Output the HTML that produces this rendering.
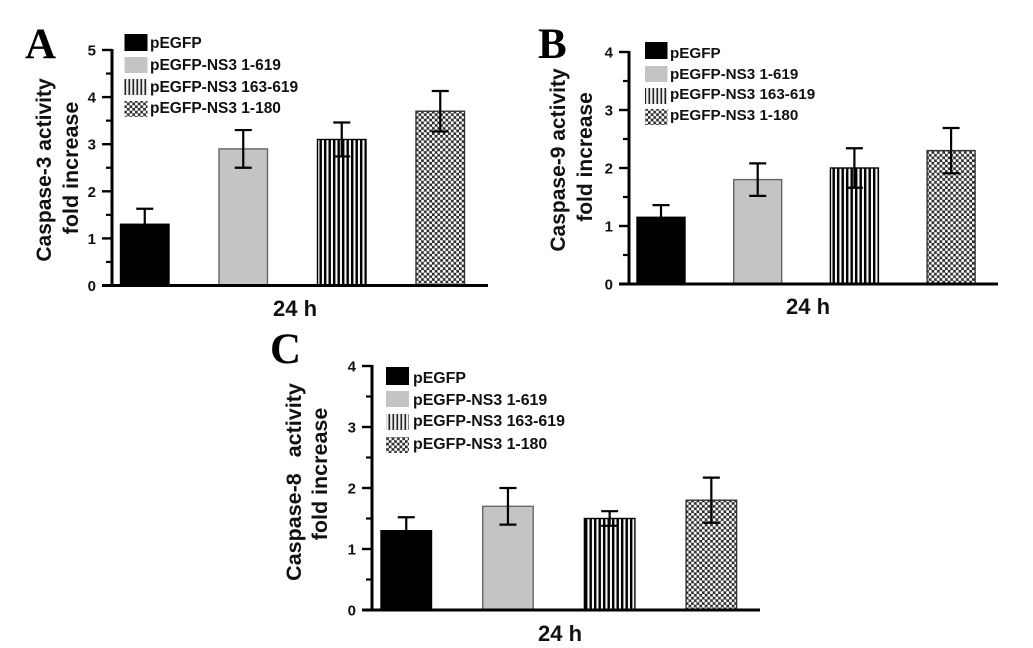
<!DOCTYPE html>
<html lang="en">
<head>
<meta charset="utf-8">
<title>Caspase activity fold increase</title>
<style>
html,body{margin:0;padding:0;background:#fff;width:1033px;height:648px;overflow:hidden}
svg{display:block;filter:blur(0.35px)}
text{font-family:"Liberation Sans",Arial,sans-serif;font-weight:bold;fill:#111}
.panel-letter{font-family:"Liberation Serif",serif;font-size:43px;fill:#000}
.tick{font-size:15px;text-anchor:end}
.ttl{font-size:21px;text-anchor:middle}
.ttl2{font-size:21.5px;text-anchor:middle}
.xl{font-size:22px;text-anchor:middle}
</style>
</head>
<body>
<svg id="figure" width="1033" height="648" viewBox="0 0 1033 648" xmlns="http://www.w3.org/2000/svg">
<defs>
<pattern id="stripes" width="4.5" height="4.5" patternUnits="userSpaceOnUse">
<rect width="4.5" height="4.5" fill="#f4f4f4"/>
<rect x="0" width="2.4" height="4.5" fill="#000"/>
</pattern>
<pattern id="legend-stripes" width="4" height="4" patternUnits="userSpaceOnUse">
<rect width="4" height="4" fill="#eeeeee"/>
<rect x="0.5" width="1.6" height="4" fill="#222"/>
</pattern>
<pattern id="checks" width="5.4" height="5.4" patternUnits="userSpaceOnUse">
<rect width="5.4" height="5.4" fill="#2a2a2a"/>
<circle cx="1.35" cy="1.35" r="1.55" fill="#fff"/>
<circle cx="4.05" cy="4.05" r="1.55" fill="#fff"/>
</pattern>
</defs>
<rect width="1033" height="648" fill="#fff"/>

<g id="panel-a">
<text class="panel-letter" x="25" y="58">A</text>
<text class="ttl" transform="translate(51,170) rotate(-90)">Caspase-3 activity</text>
<text class="ttl2" transform="translate(78,168) rotate(-90)">fold increase</text>
<text class="xl" x="295" y="316">24 h</text>
<g style="font-size:15.5px">
<rect x="124.500" y="34" width="23" height="17" fill="#000"/>
<rect x="124.500" y="57" width="23" height="16" fill="#c4c4c4"/>
<rect x="124.500" y="79" width="23" height="16" fill="url(#legend-stripes)"/>
<rect x="124.500" y="101" width="23" height="16" fill="url(#checks)"/>
<text x="150" y="48">pEGFP</text>
<text x="150" y="70">pEGFP-NS3 1-619</text>
<text x="150" y="92">pEGFP-NS3 163-619</text>
<text x="150" y="113">pEGFP-NS3 1-180</text>
</g>
</g>

<g id="panel-b">
<text class="panel-letter" x="538" y="58">B</text>
<text class="ttl" transform="translate(565,160) rotate(-90)">Caspase-9 activity</text>
<text class="ttl" transform="translate(592,157) rotate(-90)">fold increase</text>
<text class="xl" x="808" y="314">24 h</text>
<g style="font-size:15.2px">
<rect x="645" y="42" width="22.500" height="17" fill="#000"/>
<rect x="645" y="66" width="22.500" height="16" fill="#c4c4c4"/>
<rect x="645" y="88" width="22.500" height="16" fill="url(#legend-stripes)"/>
<rect x="645" y="109" width="22.500" height="16" fill="url(#checks)"/>
<text x="670" y="58">pEGFP</text>
<text x="670" y="79">pEGFP-NS3 1-619</text>
<text x="670" y="99">pEGFP-NS3 163-619</text>
<text x="670" y="120">pEGFP-NS3 1-180</text>
</g>
</g>

<g id="panel-c">
<text class="panel-letter" x="270" y="363">C</text>
<text class="ttl2" style="word-spacing:10px" transform="translate(301,482) rotate(-90)">Caspase-8 activity</text>
<text class="ttl2" transform="translate(327,474) rotate(-90)">fold increase</text>
<text class="xl" x="560" y="641">24 h</text>
<g style="font-size:15.9px">
<rect x="386" y="367" width="23" height="18" fill="#000"/>
<rect x="386" y="391" width="23" height="16" fill="#c4c4c4"/>
<rect x="386" y="414" width="23" height="16" fill="url(#legend-stripes)"/>
<rect x="386" y="437" width="23" height="16" fill="url(#checks)"/>
<text x="413" y="383">pEGFP</text>
<text x="413" y="405">pEGFP-NS3 1-619</text>
<text x="413" y="426">pEGFP-NS3 163-619</text>
<text x="413" y="449">pEGFP-NS3 1-180</text>
</g>
</g>
</svg>
<script>
// Chart data
const categories = ["pEGFP", "pEGFP-NS3 1-619", "pEGFP-NS3 163-619", "pEGFP-NS3 1-180"];
const caspase3Means = [1.3, 2.9, 3.1, 3.7];
const caspase3Errors = [0.33, 0.4, 0.36, 0.43];
const caspase3Ticks = [0, 1, 2, 3, 4, 5];
const caspase9Means = [1.15, 1.8, 2.0, 2.3];
const caspase9Errors = [0.21, 0.28, 0.34, 0.39];
const caspase9Ticks = [0, 1, 2, 3, 4];
const caspase8Means = [1.3, 1.7, 1.5, 1.8];
const caspase8Errors = [0.22, 0.3, 0.12, 0.37];
const caspase8Ticks = [0, 1, 2, 3, 4];

const SVGNS = "http://www.w3.org/2000/svg";
const fills = ["#000", "#c4c4c4", "url(#stripes)", "url(#checks)"];
const strokes = ["#000", "#666", "#000", "#333"];

function shape(tag, parent, attrs) {
  const el = document.createElementNS(SVGNS, tag);
  for (const k in attrs) el.setAttribute(k, attrs[k]);
  parent.appendChild(el);
  return el;
}

function drawPanel(cfg) {
  const g = document.getElementById(cfg.id);
  const top = Math.max.apply(null, cfg.ticks);
  const yScale = function (v) { return cfg.y0 - (v / top) * (cfg.y0 - cfg.yTop); };
  const xBand = function (i) { return cfg.firstBar + i * cfg.step; };

  cfg.means.forEach(function (m, i) {
    const x = xBand(i);
    const bar = shape("rect", g, { x: x, y: yScale(m), width: cfg.barW, height: cfg.y0 - yScale(m), fill: fills[i], stroke: strokes[i], "stroke-width": 1.4 });
    
    

    const cx = x + cfg.barW / 2;
    const hi = yScale(m + cfg.errors[i]);
    const lo = yScale(m - cfg.errors[i]);
    const stem = shape("line", g, { x1: cx, x2: cx, y1: hi, y2: lo, stroke: "#000", "stroke-width": 2.2 });
    
    
    const capTop = shape("line", g, { x1: cx - 8.5, x2: cx + 8.5, y1: hi, y2: hi, stroke: "#000", "stroke-width": 2.2 });
    
    
    const capLow = shape("line", g, { x1: cx - 8.5, x2: cx + 8.5, y1: lo, y2: lo, stroke: "#000", "stroke-width": 2.2 });
    
    
  });

  const yAxis = shape("line", g, { x1: cfg.axisX, x2: cfg.axisX, y1: yScale(top) - 1, y2: cfg.y0 + 1, stroke: "#000", "stroke-width": 3 });
  
  
  const xAxis = shape("line", g, { x1: cfg.axisX - 10, x2: cfg.xEnd, y1: cfg.y0, y2: cfg.y0, stroke: "#000", "stroke-width": 3 });
  
  

  cfg.ticks.forEach(function (t, i) {
    const y = yScale(t);
    const major = shape("line", g, { x1: cfg.axisX - 10, x2: cfg.axisX, y1: y, y2: y, stroke: "#000", "stroke-width": 2.4 });
    
    
    const label = shape("text", g, { class: "tick", x: cfg.axisX - 16, y: y + 5.5 });
    label.textContent = t;
    
    
    if (i < cfg.ticks.length - 1) {
      const ym = yScale((t + cfg.ticks[i + 1]) / 2);
      const minor = shape("line", g, { x1: cfg.axisX - 6, x2: cfg.axisX, y1: ym, y2: ym, stroke: "#000", "stroke-width": 2.2 });
      
      
    }
  });
}

drawPanel({ id: "panel-a", means: caspase3Means, errors: caspase3Errors, ticks: caspase3Ticks, axisX: 112, y0: 285.5, yTop: 50, firstBar: 120.5, step: 98.5, barW: 48.5, xEnd: 488 });
drawPanel({ id: "panel-b", means: caspase9Means, errors: caspase9Errors, ticks: caspase9Ticks, axisX: 629, y0: 284, yTop: 52, firstBar: 637, step: 96.7, barW: 48, xEnd: 998 });
drawPanel({ id: "panel-c", means: caspase8Means, errors: caspase8Errors, ticks: caspase8Ticks, axisX: 372, y0: 610, yTop: 366, firstBar: 381, step: 101.7, barW: 50.5, xEnd: 760 });
</script>
</body>
</html>
